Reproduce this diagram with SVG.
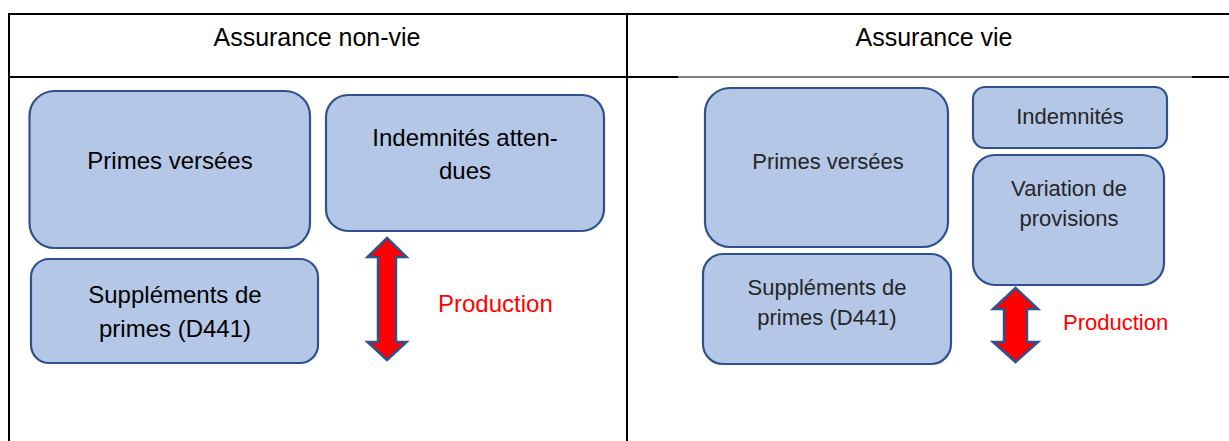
<svg xmlns="http://www.w3.org/2000/svg" width="1229" height="441" viewBox="0 0 1229 441">
<style>
.grid{stroke:#000;stroke-width:2;fill:none}
.box{fill:#B4C7E7;stroke:#2F528F;stroke-width:2.2}
.t{font-family:"Liberation Sans",Arial,sans-serif;fill:#000;text-anchor:middle}
.h{font-size:25px}
.l{font-size:24px}
.r{font-size:22px;fill:#262626}
.prod{fill:#FF0000;text-anchor:start}
.arr{fill:#FF0000;stroke:#2F528F;stroke-width:2.5;stroke-linejoin:miter}
</style>
<rect width="1229" height="441" fill="#fff"/>
<g id="table">
<line class="grid" x1="8" y1="14" x2="1229" y2="14"/>
<line class="grid" x1="9" y1="14" x2="9" y2="441"/>
<line class="grid" x1="627" y1="14" x2="627" y2="441"/>
<line class="grid" x1="8" y1="77" x2="678" y2="77"/>
<line x1="678" y1="77" x2="1192" y2="77" stroke="#000" stroke-width="1.2"/>
<line class="grid" x1="1192" y1="77" x2="1229" y2="77"/>
<text class="t h" x="317" y="46">Assurance non-vie</text>
<text class="t h" x="934" y="46">Assurance vie</text>
</g>
<g id="nv-primes">
<rect class="box" x="29.5" y="91" width="280.5" height="157" rx="25"/>
<text class="t l" x="170" y="169">Primes versées</text>
</g>
<g id="nv-indemnites">
<rect class="box" x="326" y="95" width="278" height="136" rx="22"/>
<text class="t l" x="465" y="146">Indemnités atten-</text>
<text class="t l" x="465" y="179">dues</text>
</g>
<g id="nv-supplements">
<rect class="box" x="31" y="259" width="287" height="104" rx="18"/>
<text class="t l" x="175" y="303">Suppléments de</text>
<text class="t l" x="175" y="337">primes (D441)</text>
</g>
<g id="v-primes">
<rect class="box" x="705" y="88" width="243" height="159" rx="25"/>
<text class="t r" x="828" y="169">Primes versées</text>
</g>
<g id="v-indemnites">
<rect class="box" x="973" y="87" width="194" height="61" rx="12"/>
<text class="t r" x="1070" y="124">Indemnités</text>
</g>
<g id="v-variation">
<rect class="box" x="973" y="155" width="191" height="130" rx="22"/>
<text class="t r" x="1069" y="196">Variation de</text>
<text class="t r" x="1069" y="226">provisions</text>
</g>
<g id="v-supplements">
<rect class="box" x="703" y="254" width="248" height="110" rx="20"/>
<text class="t r" x="827" y="295">Suppléments de</text>
<text class="t r" x="827" y="325">primes (D441)</text>
</g>
<g id="connectors">
<polygon class="arr" points="387,238 406.5,257 396,257 396,342 406.5,342 387,360 367.5,342 378,342 378,257 367.5,257"/>
<polygon class="arr" points="1015.5,288 1038,309 1027,309 1027,342 1038,342 1015.5,362 993,342 1004,342 1004,309 993,309"/>
</g>
<g id="labels">
<text class="t prod" x="438" y="312" font-size="24">Production</text>
<text class="t prod" x="1063" y="330" font-size="22">Production</text>
</g>
</svg>
